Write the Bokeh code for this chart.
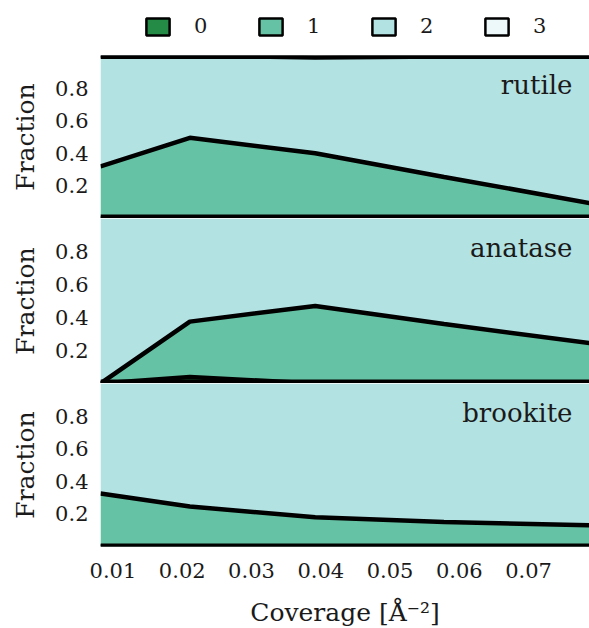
import numpy as np
from bokeh.plotting import figure
from bokeh.models import (ColumnDataSource, Range1d, FixedTicker, PrintfTickFormatter,
                          Legend, LegendItem, Label)
from bokeh.layouts import column
from bokeh.embed import file_html
from bokeh.resources import INLINE

# ---- data ----
coverage = [0.0082, 0.0211, 0.0392, 0.0578, 0.0788]
layer_names = ["0", "1", "2", "3"]
layer_colors = ["#238b45", "#66c2a4", "#b2e2e2", "#edf8fb"]
phases = ["rutile", "anatase", "brookite"]

rutile_0 = [0.0, 0.0, 0.0, 0.0, 0.0]
rutile_1 = [0.32, 0.495, 0.40, 0.255, 0.095]
rutile_3 = [0.0, 0.0, 0.012, 0.006, 0.0]

anatase_0 = [0.0, 0.04, 0.0, 0.0, 0.0]
anatase_1 = [0.0, 0.335, 0.47, 0.36, 0.245]
anatase_3 = [0.0, 0.0, 0.0, 0.0, 0.0]

brookite_0 = [0.0, 0.0, 0.0, 0.0, 0.0]
brookite_1 = [0.325, 0.245, 0.18, 0.15, 0.13]
brookite_3 = [0.0, 0.0, 0.0, 0.0, 0.0]

x_ticks = [0.01, 0.02, 0.03, 0.04, 0.05, 0.06, 0.07]
y_ticks = [0.2, 0.4, 0.6, 0.8]

SERIF = "DejaVu Serif"
TXT = "#1a1a1a"
TICK_FS = "21px"
LABEL_FS = "25px"
PANEL_FS = "26px"

data = {
    "rutile": (rutile_0, rutile_1, rutile_3),
    "anatase": (anatase_0, anatase_1, anatase_3),
    "brookite": (brookite_0, brookite_1, brookite_3),
}

x_range = Range1d(min(coverage), max(coverage))

# ---- legend strip on top ----
leg = figure(output_backend="svg", toolbar_location=None,
             frame_width=489, frame_height=55,
             x_range=Range1d(0, 1), y_range=Range1d(0, 1),
             x_axis_location=None, y_axis_location=None,
             min_border_left=100, min_border_right=0,
             min_border_top=0, min_border_bottom=0,
             background_fill_color="white", border_fill_color="white")
leg.outline_line_color = None
leg.grid.visible = False
# NaN quads (never drawn) only supply bordered legend swatches
dummy = ColumnDataSource(dict(l=[np.nan], r=[np.nan], t=[np.nan], b=[np.nan]))
items = []
for name, c in zip(layer_names, layer_colors):
    r = leg.quad(left="l", right="r", top="t", bottom="b", source=dummy,
                 fill_color=c, line_color="black", line_width=2.5)
    items.append(LegendItem(label=name, renderers=[r]))
legend = Legend(items=items, orientation="horizontal", location=(43, 17),
                glyph_width=29, glyph_height=21, label_height=21,
                label_standoff=22, spacing=42, padding=0, margin=0,
                border_line_color=None, background_fill_alpha=0,
                label_text_font=SERIF, label_text_font_size=TICK_FS,
                label_text_color=TXT, label_text_baseline="middle")
leg.add_layout(legend, "center")

frame_heights = [163, 165, 163]
figs = [leg]
for i, phase in enumerate(phases):
    f0, f1, f3 = (np.array(a) for a in data[phase])
    f2 = 1.0 - f0 - f1 - f3
    src = ColumnDataSource(dict(x=coverage, f0=f0, f1=f1, f2=f2, f3=f3))
    last = (i == len(phases) - 1)
    p = figure(output_backend="svg", toolbar_location=None,
               frame_width=489, frame_height=frame_heights[i],
               x_range=x_range, y_range=Range1d(0, 1),
               x_axis_location="below" if last else None,
               min_border_left=100, min_border_right=0,
               min_border_top=0,
               min_border_bottom=82 if last else 0,
               background_fill_color="white", border_fill_color="white")
    p.outline_line_color = None
    p.grid.visible = False

    p.varea_stack(stackers=["f0", "f1", "f2", "f3"], x="x",
                  color=layer_colors, source=src)
    # boundary lines (clipped at the frame edges)
    zeros = np.zeros(len(coverage))
    p.line(coverage, zeros, line_color="black", line_width=6 if last else 8)
    cum = zeros.copy()
    for arr in (f0, f1):
        cum = cum + arr
        p.line(coverage, cum.copy(), line_color="black", line_width=4.5)
    if np.any(f3 > 0):
        p.line(coverage, cum + f2, line_color="black", line_width=4.5)
    if i == 0:
        p.line(coverage, cum + f2 + f3, line_color="black", line_width=7)

    p.yaxis.ticker = FixedTicker(ticks=y_ticks)
    p.yaxis.axis_label = "Fraction"
    p.yaxis.axis_label_text_font = SERIF
    p.yaxis.axis_label_text_font_style = "normal"
    p.yaxis.axis_label_text_font_size = LABEL_FS
    p.yaxis.axis_label_text_color = TXT
    p.yaxis.axis_label_standoff = 12
    p.yaxis.major_label_text_font = SERIF
    p.yaxis.major_label_text_font_size = TICK_FS
    p.yaxis.major_label_text_color = TXT
    p.yaxis.major_label_standoff = 12
    p.yaxis.major_tick_line_color = None
    p.yaxis.minor_tick_line_color = None
    p.yaxis.major_tick_out = 0
    p.yaxis.major_tick_in = 0
    p.yaxis.axis_line_color = None

    if last:
        p.xaxis.ticker = FixedTicker(ticks=x_ticks)
        p.xaxis.formatter = PrintfTickFormatter(format="%.2f")
        p.xaxis.axis_label = "Coverage [Å⁻²]"
        p.xaxis.axis_label_text_font = SERIF
        p.xaxis.axis_label_text_font_style = "normal"
        p.xaxis.axis_label_text_font_size = LABEL_FS
        p.xaxis.axis_label_text_color = TXT
        p.xaxis.axis_label_standoff = 17
        p.xaxis.major_label_text_font = SERIF
        p.xaxis.major_label_text_font_size = TICK_FS
        p.xaxis.major_label_text_color = TXT
        p.xaxis.major_label_standoff = 16
        p.xaxis.major_tick_line_color = None
        p.xaxis.minor_tick_line_color = None
        p.xaxis.major_tick_out = 0
        p.xaxis.major_tick_in = 0
        p.xaxis.axis_line_color = None

    p.add_layout(Label(x=max(coverage), y=0.82, x_offset=-17, text=phase,
                       text_align="right", text_baseline="middle",
                       text_font=SERIF, text_font_size=PANEL_FS, text_color=TXT))
    figs.append(p)

layout = column(*figs, spacing=0)
open("out.html", "w").write(file_html(layout, INLINE))
